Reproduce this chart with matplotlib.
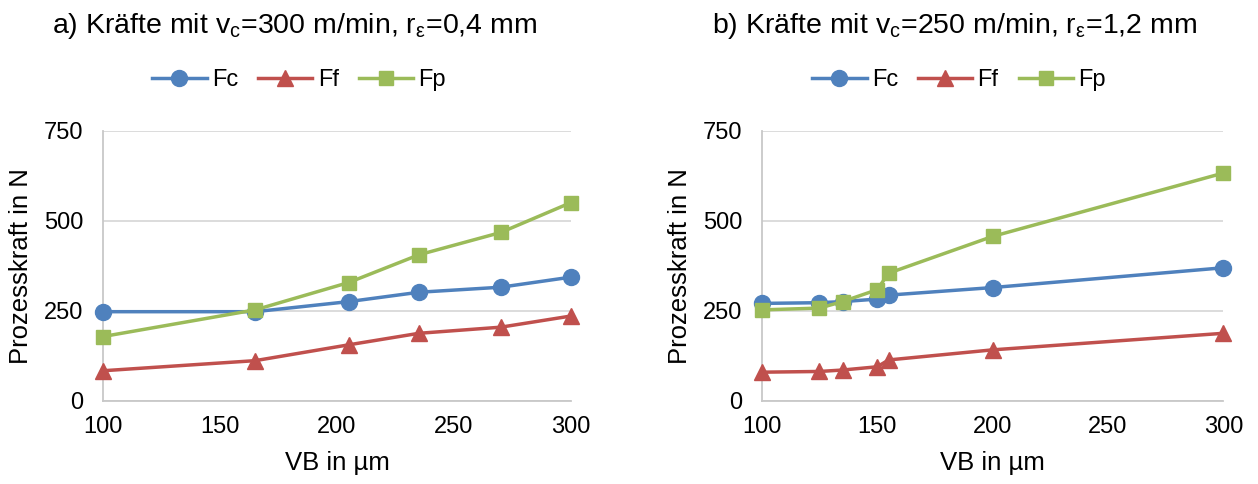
import matplotlib.pyplot as plt

plt.rcParams['font.family'] = ['Liberation Sans', 'DejaVu Sans']
plt.rcParams['mathtext.fontset'] = 'custom'
plt.rcParams['mathtext.rm'] = 'Liberation Sans'

# a) vc=300 m/min, r=0,4 mm
vb_a = [100, 165, 205, 235, 270, 300]
fc_a = [248, 248, 276, 302, 316, 344]
ff_a = [84, 112, 156, 188, 205, 236]
fp_a = [179, 253, 329, 406, 468, 551]

# b) vc=250 m/min, r=1,2 mm
vb_b = [100, 125, 135, 150, 155, 200, 300]
fc_b = [271, 273, 276, 283, 294, 315, 370]
ff_b = [80, 82, 86, 95, 114, 142, 188]
fp_b = [253, 258, 276, 309, 355, 457, 633]

titles = [r'a) Kräfte mit v$_\mathregular{c}$=300 m/min, r$_\mathregular{ε}$=0,4 mm',
          r'b) Kräfte mit v$_\mathregular{c}$=250 m/min, r$_\mathregular{ε}$=1,2 mm']

blue = '#4F81BD'
red = '#C0504D'
green = '#9BBB59'

fig = plt.figure(figsize=(12.58, 4.84), dpi=100)
ax1 = fig.add_axes([0.0819, 0.1715, 0.372, 0.558])
ax2 = fig.add_axes([0.6055, 0.1715, 0.367, 0.558])

panels = [(ax1, vb_a, fc_a, ff_a, fp_a, 0.2345, 0.2377),
          (ax2, vb_b, fc_b, ff_b, fp_b, 0.759, 0.7623)]

for i, (ax, vb, fc, ff, fp, tx, lx) in enumerate(panels):
    ax.plot(vb, fc, color=blue, lw=2.5, marker='o', ms=11.5, label='Fc', clip_on=False, zorder=3)
    ax.plot(vb, ff, color=red, lw=2.5, marker='^', ms=11.5, label='Ff', clip_on=False, zorder=3)
    ax.plot(vb, fp, color=green, lw=2.5, marker='s', ms=10, label='Fp', clip_on=False, zorder=3)
    ax.set_xlim(100, 300)
    ax.set_ylim(0, 750)
    ax.set_xticks([100, 150, 200, 250, 300])
    ax.set_yticks([0, 250, 500, 750])
    ax.grid(axis='y', color='#d9d9d9', lw=1.3)
    ax.set_axisbelow(True)
    for s in ['top', 'right']:
        ax.spines[s].set_visible(False)
    for s in ['left', 'bottom']:
        ax.spines[s].set_color('#c8c8c8')
        ax.spines[s].set_linewidth(1.3)
    ax.tick_params(length=0, labelsize=17)
    ax.tick_params(axis='y', pad=14)
    ax.tick_params(axis='x', pad=11)
    ax.set_xlabel('VB in µm', fontsize=18.5, labelpad=9)
    ax.set_ylabel('Prozesskraft in N', fontsize=18.5, labelpad=8)
    fig.text(tx, 0.932, titles[i], fontsize=20.5, ha='center', va='baseline')
    ax.legend(loc='center', bbox_to_anchor=(lx, 0.835), bbox_transform=fig.transFigure,
              ncol=3, frameon=False, fontsize=17, handlelength=2.3, columnspacing=0.85,
              handletextpad=0.22, borderpad=0)

fig.savefig('out.png', dpi=100)
